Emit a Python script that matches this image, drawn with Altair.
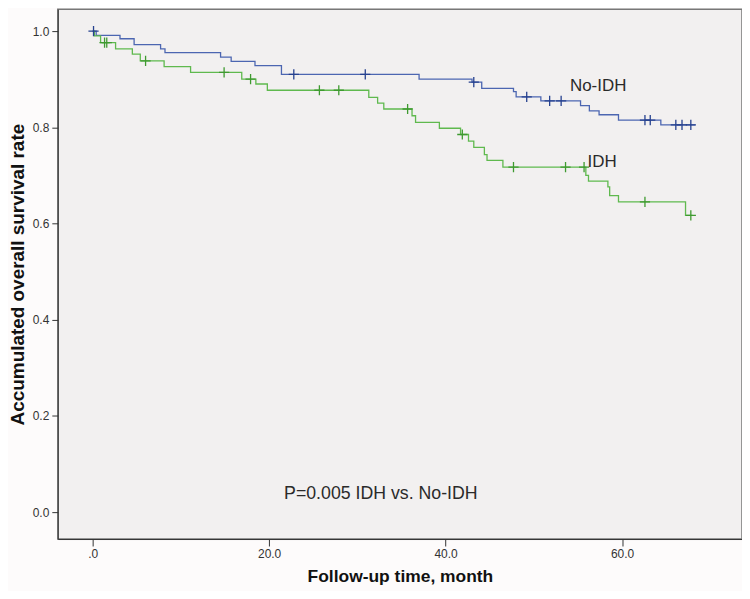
import altair as alt
import pandas as pd

# ---- data ----
noidh_time = [0, 0.4, 3.1, 4.7, 7.7, 8.2, 14.5, 15.7, 18.4, 21.4, 37.0, 43.0, 44.1, 47.7, 48.0,
              50.8, 55.3, 56.3, 57.4, 59.6, 64.4, 68.3]
noidh_surv = [1.0, 0.991, 0.984, 0.972, 0.963, 0.955, 0.946, 0.937, 0.928, 0.910, 0.900, 0.894,
              0.881, 0.874, 0.863, 0.855, 0.845, 0.834, 0.826, 0.815, 0.805, 0.805]
noidh_cens_time = [0.1, 22.8, 30.9, 43.2, 49.2, 51.8, 53.1, 62.6, 63.2, 66.1, 66.8, 67.8]
noidh_cens_surv = [1.0, 0.910, 0.910, 0.894, 0.863, 0.855, 0.855, 0.815, 0.815, 0.805, 0.805, 0.805]

idh_time = [0, 0.2, 0.9, 2.6, 4.5, 5.4, 8.1, 11.1, 16.9, 18.5, 19.8, 31.3, 32.3, 33.0, 36.2, 36.6,
            39.3, 41.7, 42.6, 43.2, 44.4, 44.7, 46.5, 55.9, 56.2, 58.4, 58.6, 59.6, 67.2, 68.0]
idh_surv = [1.0, 0.99, 0.976, 0.963, 0.952, 0.938, 0.926, 0.914, 0.900, 0.890, 0.877, 0.862, 0.850,
            0.838, 0.824, 0.810, 0.798, 0.785, 0.771, 0.758, 0.743, 0.731, 0.717, 0.700, 0.688,
            0.676, 0.658, 0.645, 0.617, 0.617]
idh_cens_time = [1.35, 1.6, 6.0, 14.9, 17.9, 25.7, 27.9, 35.7, 41.9, 47.7, 53.6, 55.7, 62.6, 67.8]
idh_cens_surv = [0.976, 0.976, 0.938, 0.914, 0.900, 0.877, 0.877, 0.838, 0.785, 0.717, 0.717,
                 0.717, 0.645, 0.617]

groups = ["No-IDH", "IDH"]
colors = ["#4c66b1", "#5fb94e"]
cens_colors = ["#26418f", "#3f9a30"]

curve_label_text = ["No-IDH", "IDH"]
curve_label_x = [54.1, 56.1]
curve_label_y = [0.886, 0.727]

pvalue_text = ["P=0.005 IDH vs. No-IDH"]
pvalue_x = [21.7]
pvalue_y = [0.037]

x_ticks = [0, 20, 40, 60]
y_ticks = [0.0, 0.2, 0.4, 0.6, 0.8, 1.0]

# ---- tables ----
lines = pd.concat([
    pd.DataFrame({"t": noidh_time, "s": noidh_surv, "g": groups[0]}),
    pd.DataFrame({"t": idh_time, "s": idh_surv, "g": groups[1]}),
])
cens = pd.concat([
    pd.DataFrame({"t": noidh_cens_time, "s": noidh_cens_surv, "g": groups[0]}),
    pd.DataFrame({"t": idh_cens_time, "s": idh_cens_surv, "g": groups[1]}),
])
curve_labels = pd.DataFrame({"t": curve_label_x, "s": curve_label_y, "txt": curve_label_text})
pvalue = pd.DataFrame({"t": pvalue_x, "s": pvalue_y, "txt": pvalue_text})

FONT = "Liberation Sans, Arial, sans-serif"

xscale = alt.Scale(domain=[-3.95, 73.6], nice=False, zero=False)
yscale = alt.Scale(domain=[-0.056, 1.0455], nice=False, zero=False)

xaxis = alt.Axis(
    title="Follow-up time, month", values=x_ticks,
    labelExpr="datum.value == 0 ? '.0' : format(datum.value, '.1f')",
    grid=False, tickSize=7, tickColor="#333", domainColor="#333",
    labelFont=FONT, labelFontSize=12, labelColor="#333", labelPadding=3,
    titleFont=FONT, titleFontSize=17.5, titleFontWeight="bold", titleColor="#111",
    titlePadding=8,
)
yaxis = alt.Axis(
    title="Accumulated overall survival rate", values=y_ticks, format=".1f",
    grid=False, tickSize=6, tickColor="#333", domainColor="#333",
    labelFont=FONT, labelFontSize=12, labelColor="#333", labelPadding=3,
    titleFont=FONT, titleFontSize=19, titleFontWeight="bold", titleColor="#111",
    titlePadding=5,
)

color = alt.Color("g:N", scale=alt.Scale(domain=groups, range=colors), legend=None)

step = alt.Chart(lines).mark_line(interpolate="step-after", strokeWidth=1.3).encode(
    x=alt.X("t:Q", scale=xscale, axis=xaxis),
    y=alt.Y("s:Q", scale=yscale, axis=yaxis),
    color=color,
    detail="g:N",
)

marks = alt.Chart(cens).mark_point(
    shape="M-1,0L1,0M0,-1L0,1", size=105, filled=False, strokeWidth=1.3, opacity=1
).encode(
    x=alt.X("t:Q", scale=xscale),
    y=alt.Y("s:Q", scale=yscale),
    color=alt.Color("g:N", scale=alt.Scale(domain=groups, range=cens_colors), legend=None),
)

text1 = alt.Chart(curve_labels).mark_text(
    align="left", baseline="middle", font=FONT, fontSize=17, color="#2a2a2a"
).encode(
    x=alt.X("t:Q", scale=xscale),
    y=alt.Y("s:Q", scale=yscale),
    text="txt:N",
)

text2 = alt.Chart(pvalue).mark_text(
    align="left", baseline="middle", font=FONT, fontSize=17.8, color="#2a2a2a"
).encode(
    x=alt.X("t:Q", scale=xscale),
    y=alt.Y("s:Q", scale=yscale),
    text="txt:N",
)

chart = alt.layer(step, marks, text1, text2).resolve_scale(color="independent").properties(
    width=687, height=532,
    autosize=alt.AutoSizeParams(type="none"),
    padding={"left": 50, "top": 0, "right": 0, "bottom": 51},
    background="#fdfbfb",
).configure_view(fill="#f2f0f0", stroke="#777", strokeWidth=1.5)

chart.save("out.html", embed_options={"renderer": "svg", "actions": False})
